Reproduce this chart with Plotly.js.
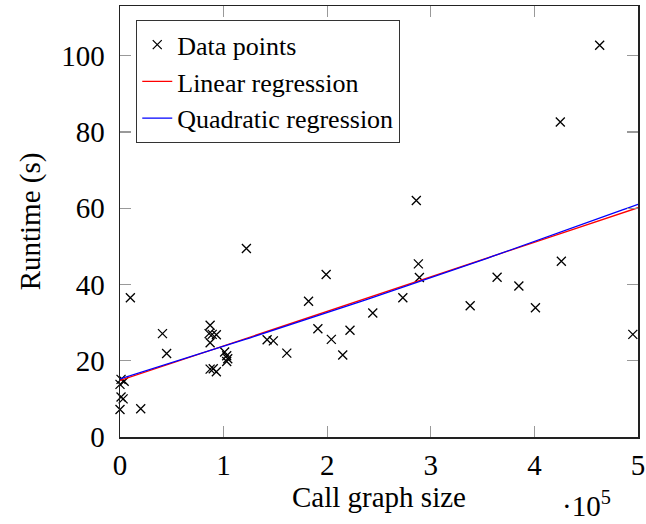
<!DOCTYPE html>
<html>
<head>
<meta charset="utf-8">
<script src="https://cdn.plot.ly/plotly-3.0.1.min.js"></script>
<style>html,body{margin:0;padding:0;background:#fff;}#chart{width:646px;height:524px;}</style>
</head>
<body>
<div id="chart"></div>
<script>
// Call graph size (number of nodes/edges) and runtime in seconds
const callGraphSize = [0, 20000, 1000, 3000, 0, 1000, 4000, 10000, 41000, 45000,
  87000, 86000, 89000, 93000, 87000, 87000, 90000, 93000, 101000, 103000,
  104000, 103000, 142000, 148000, 161000, 182000, 191000, 199000, 204000, 215000,
  222000, 122000, 244000, 273000, 286000, 288000, 289000, 338000, 364000, 385000,
  401000, 425000, 426000, 463000, 495000];
const runtimeSec = [7.2, 7.4, 10.5, 10.0, 13.8, 15.1, 14.6, 36.5, 27.1, 21.9,
  29.3, 27.1, 26.9, 26.8, 24.7, 17.8, 17.9, 17.1, 22.3, 21.3,
  20.5, 19.8, 25.5, 25.2, 22.0, 35.6, 28.4, 42.6, 25.6, 21.5,
  28.0, 49.4, 32.5, 36.5, 62.0, 45.4, 41.8, 34.4, 41.9, 39.6,
  33.9, 82.6, 46.1, 102.7, 26.9];
const xTickVals = [0, 100000, 200000, 300000, 400000, 500000];
const xTickText = ["0", "1", "2", "3", "4", "5"];
const yTickVals = [0, 20, 40, 60, 80, 100];
const seriesNames = ["Data points", "Linear regression", "Quadratic regression"];

// least-squares polynomial fit (x scaled by 1e5 for stability)
function polyfit(xs, ys, deg) {
  const n = deg + 1;
  const A = Array.from({length: n}, () => new Array(n + 1).fill(0));
  for (let k = 0; k < xs.length; k++) {
    const x = xs[k] / 1e5, y = ys[k];
    for (let i = 0; i < n; i++) {
      for (let j = 0; j < n; j++) A[i][j] += Math.pow(x, i + j);
      A[i][n] += y * Math.pow(x, i);
    }
  }
  for (let i = 0; i < n; i++) {
    let p = i;
    for (let r = i + 1; r < n; r++) if (Math.abs(A[r][i]) > Math.abs(A[p][i])) p = r;
    [A[i], A[p]] = [A[p], A[i]];
    for (let r = 0; r < n; r++) {
      if (r === i) continue;
      const f = A[r][i] / A[i][i];
      for (let c = i; c <= n; c++) A[r][c] -= f * A[i][c];
    }
  }
  return A.map((row, i) => row[n] / row[i]);
}
const linC = polyfit(callGraphSize, runtimeSec, 1);
const quadC = polyfit(callGraphSize, runtimeSec, 2);
const evalPoly = (c, x) => c.reduce((s, a, i) => s + a * Math.pow(x / 1e5, i), 0);
const lineX = [];
for (let i = 0; i <= 100; i++) lineX.push(5e5 * i / 100);

const font = "Liberation Serif, Times New Roman, serif";

const traces = [
  {x: callGraphSize, y: runtimeSec, mode: "markers", type: "scatter", name: seriesNames[0],
   cliponaxis: false,
   marker: {symbol: "x-thin", size: 9, color: "black", line: {color: "black", width: 1.3}}},
  {x: lineX, y: lineX.map(x => evalPoly(linC, x)), mode: "lines", type: "scatter", name: seriesNames[1],
   line: {color: "#ff0000", width: 1.3}},
  {x: lineX, y: lineX.map(x => evalPoly(quadC, x)), mode: "lines", type: "scatter", name: seriesNames[2],
   line: {color: "#0000ff", width: 1.3}}
];

const axisCommon = {
  showgrid: false, zeroline: false, showline: true, linecolor: "#222", linewidth: 1.5,
  mirror: "ticks", ticks: "inside", ticklen: 11, tickcolor: "#999", tickwidth: 1.3,
  tickfont: {family: font, size: 29, color: "black"}
};

const layout = {
  width: 646, height: 524,
  margin: {l: 120, r: 8, t: 6, b: 87},
  paper_bgcolor: "white", plot_bgcolor: "white",
  font: {family: font, size: 28, color: "black"},
  showlegend: true,
  legend: {x: 0.031, y: 0.9675, xanchor: "left", yanchor: "top",
    bordercolor: "#333", borderwidth: 1.2, bgcolor: "white",
    font: {family: font, size: 26, color: "black"}},
  xaxis: Object.assign({}, axisCommon, {
    range: [0, 500000], tickvals: xTickVals, ticktext: xTickText,
    ticklabelstandoff: 2,
    title: {text: "Call graph size", font: {family: font, size: 29}, standoff: 4}
  }),
  yaxis: Object.assign({}, axisCommon, {
    range: [0, 113], tickvals: yTickVals,
    ticklabelstandoff: 8,
    title: {text: "Runtime (s)", font: {family: font, size: 29}, standoff: 12}
  }),
  annotations: [{
    xref: "paper", yref: "paper", x: 0.9, y: -0.155, xanchor: "center", yanchor: "middle",
    text: "·10<sup>5</sup>", showarrow: false, font: {family: font, size: 29, color: "black"}
  }]
};

Plotly.newPlot("chart", traces, layout, {displayModeBar: false, staticPlot: true});
</script>
</body>
</html>
